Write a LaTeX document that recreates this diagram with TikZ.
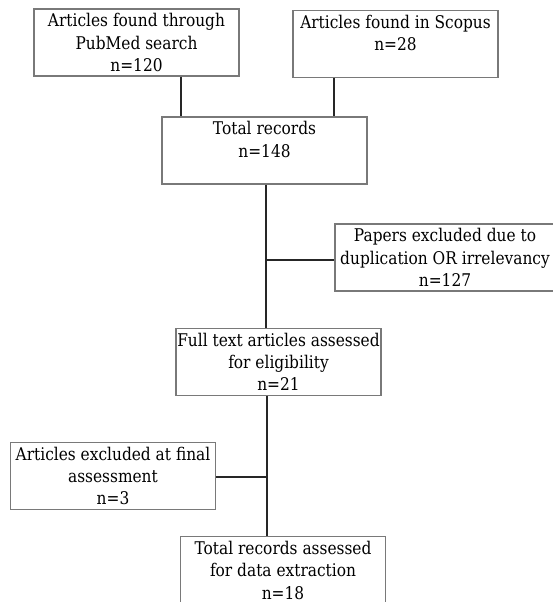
\documentclass[tikz,border=0pt]{standalone}
\usepackage{fontspec}
\setmainfont{DejaVu Serif}[FakeStretch=0.88]
\begin{document}
\begin{tikzpicture}[x=1pt,y=-1pt,
  box/.style={draw=gray!95!black, line width=1.1pt, fill=white, align=center,
    minimum width=#1, inner sep=0pt, minimum height=67pt,
    font=\fontsize{17.5}{22.3}\selectfont},
  box/.default=205pt,
  link/.style={draw=black!85, line width=1.6pt}]
\useasboundingbox (0,0) rectangle (552,602);
\node[box] (b1) at (136.5,42.5) {Articles found through\\PubMed search\\n=120};
\node[box] (b2) at (395.5,44) {Articles found in Scopus\\n=28\\\mbox{}};
\node[box] (b3) at (264.5,150.5) {Total records\\n=148\\\mbox{}};
\node[box=220pt] (b5) at (445,257.5) {Papers excluded due to\\duplication OR irrelevancy\\n=127};
\node[box] (b4) at (278.5,362) {Full text articles assessed\\for eligibility\\n=21};
\node[box] (b6) at (113,476) {Articles excluded at final\\assessment\\n=3};
\node[box] (b7) at (283,570.3) {Total records assessed\\for data extraction\\n=18};
\coordinate (c1) at (181,0);
\coordinate (c2) at (334,0);
\coordinate (t1) at (266,260);
\coordinate (t2) at (267,477);
\draw[link] (b1.south -| c1) -- (b3.north -| c1);
\draw[link] (b2.south -| c2) -- (b3.north -| c2);
\draw[link] (b3.south -| t1) -- (b4.north -| t1);
\draw[link] (t1) -- (b5.west |- t1);
\draw[link] (b4.south -| t2) -- (b7.north -| t2);
\draw[link] (b6.east |- t2) -- (t2);
\end{tikzpicture}
\end{document}
